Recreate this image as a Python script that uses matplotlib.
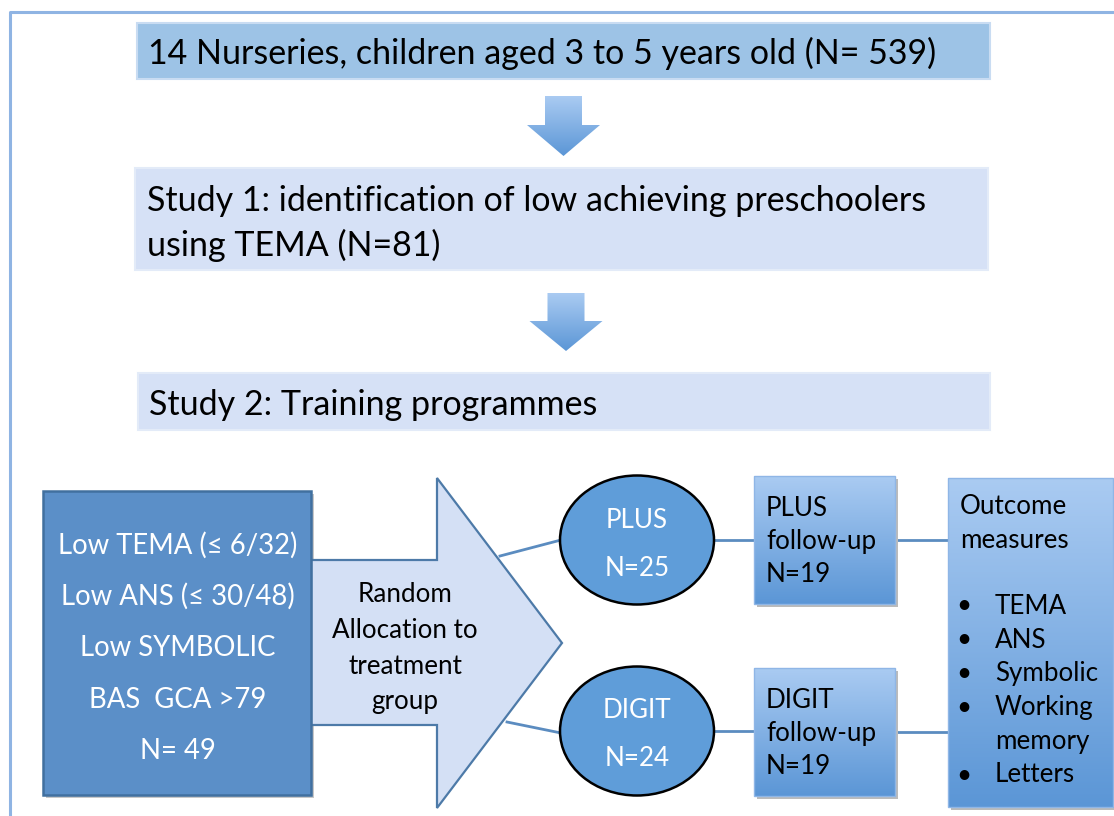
import numpy as np
import matplotlib
matplotlib.use("Agg")
import matplotlib.pyplot as plt
from matplotlib.patches import Rectangle, Polygon, Ellipse

plt.rcParams['font.family'] = ['Lato', 'DejaVu Sans']

# text content
top_box = "14 Nurseries, children aged 3 to 5 years old (N= 539)"
study1 = ["Study 1: identification of low achieving preschoolers", "using TEMA (N=81)"]
study2 = "Study 2: Training programmes"
criteria = ["Low TEMA (\u2264 6/32)", "Low ANS (\u2264 30/48)", "Low SYMBOLIC", "BAS  GCA >79", "N= 49"]
allocation = ["Random", "Allocation to", "treatment", "group"]
groups = ["PLUS", "DIGIT"]
group_n = ["N=25", "N=24"]
followup_n = ["N=19", "N=19"]
outcomes = ["TEMA", "ANS", "Symbolic", "Working", "memory", "Letters"]

W, H = 1114, 816
fig = plt.figure(figsize=(W / 100, H / 100), dpi=100)
ax = fig.add_axes([0, 0, 1, 1])
ax.set_xlim(0, W)
ax.set_ylim(H, 0)
ax.axis('off')

BIG = 24.5
SMALL = 18.7

grad = np.linspace(0, 1, 256).reshape(-1, 1)
cmap_grad = matplotlib.colors.LinearSegmentedColormap.from_list('g', ['#aacbf2', '#5b96d6'])


def grad_patch(patch, x0, x1, y0, y1):
    ax.add_patch(patch)
    im = ax.imshow(grad, cmap=cmap_grad, extent=(x0, x1, y1, y0), aspect='auto', zorder=patch.get_zorder())
    im.set_clip_path(patch)


# outer frame
ax.plot([10, 10, W + 5], [H + 5, 12, 12], color='#8fb4e3', lw=2.2, zorder=1)

# top boxes
ax.add_patch(Rectangle((137, 23), 853, 56, fc='#9dc3e6', ec='#c9dcf2', lw=1.5, zorder=2))
ax.text(148, 53, top_box, fontsize=BIG, va='center', ha='left', color='black', zorder=3)

ax.add_patch(Rectangle((135, 168), 853, 102, fc='#d6e1f6', ec='#e3ebf8', lw=1.5, zorder=2))
ax.text(147, 201, study1[0], fontsize=BIG, va='center', ha='left', zorder=3)
ax.text(147, 245, study1[1], fontsize=BIG, va='center', ha='left', zorder=3)

ax.add_patch(Rectangle((138, 373), 852, 57, fc='#d6e1f6', ec='#e3ebf8', lw=1.5, zorder=2))
ax.text(149, 405, study2, fontsize=BIG, va='center', ha='left', zorder=3)

# down arrows
for (top, head, tip, xc) in [(96, 125, 156, 563.5), (293, 321, 351, 566)]:
    pts = [(xc - 18.5, top), (xc + 18.5, top), (xc + 18.5, head), (xc + 36.5, head),
           (xc, tip), (xc - 36.5, head), (xc - 18.5, head)]
    p = Polygon(pts, closed=True, fc='none', ec='none', zorder=2)
    grad_patch(p, xc - 37, xc + 37, top, tip)

# left criteria box
ax.add_patch(Rectangle((46, 494), 268, 304, fc='#c8c8c8', ec='none', zorder=2))
ax.add_patch(Rectangle((43, 491), 268, 304, fc='#5b8fc8', ec='#41709f', lw=1.8, zorder=3))
for i, t in enumerate(criteria):
    ax.text(178, 545 + i * 51.5, t, fontsize=19.8, color='white', ha='center', va='center', zorder=4)

# big allocation arrow
arrow_pts = [(311, 560), (437, 560), (437, 478), (562, 643), (437, 808), (437, 725), (311, 725)]
ax.add_patch(Polygon(arrow_pts, closed=True, fc='#d4e0f5', ec='#4d7aa8', lw=1.6, zorder=2, joinstyle='miter'))
for i, t in enumerate(allocation):
    ax.text(405, 594 + i * 36, t, fontsize=SMALL, ha='center', va='center', zorder=4)

# connectors
line_c = '#5b8cc0'
ax.plot([500, 561], [556, 540], color=line_c, lw=2, zorder=1.5)
ax.plot([507, 561], [722, 733], color=line_c, lw=2, zorder=1.5)

ell_y = [540, 731]
fu_y = [476, 668]
for k in range(2):
    cy = ell_y[k]
    ax.add_patch(Ellipse((637, cy), 154, 129, fc='#5f9dd9', ec='black', lw=1.8, zorder=3))
    ax.text(637, cy - 20, groups[k], fontsize=SMALL, color='white', ha='center', va='center', zorder=4)
    ax.text(637, cy + 28, group_n[k], fontsize=SMALL, color='white', ha='center', va='center', zorder=4)
    ax.plot([714, 754], [cy, cy], color=line_c, lw=2, zorder=1.5)
    # follow-up box
    y0 = fu_y[k]
    ax.add_patch(Rectangle((757, y0 + 3), 141, 128, fc='#bbbbbb', ec='none', zorder=2))
    r = Rectangle((754, y0), 141, 128, fc='none', ec='none', zorder=3)
    grad_patch(r, 754, 895, y0, y0 + 128)
    ax.add_patch(Rectangle((754, y0), 141, 128, fc='none', ec='#8fb6e6', lw=1, zorder=3.5))
    for j, t in enumerate([groups[k], "follow-up", followup_n[k]]):
        ax.text(766, y0 + 32 + j * 33, t, fontsize=SMALL, ha='left', va='center', zorder=4)
    ax.plot([895, 949], [y0 + 64, y0 + 64], color=line_c, lw=2, zorder=1.5)

# outcome box
ax.add_patch(Rectangle((951, 481), 165, 329, fc='#bbbbbb', ec='none', zorder=2))
r = Rectangle((948, 478), 165, 329, fc='none', ec='none', zorder=3)
grad_patch(r, 948, 1113, 478, 807)
ax.add_patch(Rectangle((948, 478), 165, 329, fc='none', ec='#8fb6e6', lw=1, zorder=3.5))
ax.text(960, 507, "Outcome", fontsize=SMALL, ha='left', va='center', zorder=4)
ax.text(960, 540, "measures", fontsize=SMALL, ha='left', va='center', zorder=4)
out_y = [606, 640, 673, 708, 742, 775]
for t, y in zip(outcomes, out_y):
    if t != "memory":
        ax.text(964, y, "\u2022", fontsize=SMALL, ha='center', va='center', zorder=4)
    ax.text(995, y, t, fontsize=SMALL, ha='left', va='center', zorder=4)

fig.savefig('out.png', dpi=100)
